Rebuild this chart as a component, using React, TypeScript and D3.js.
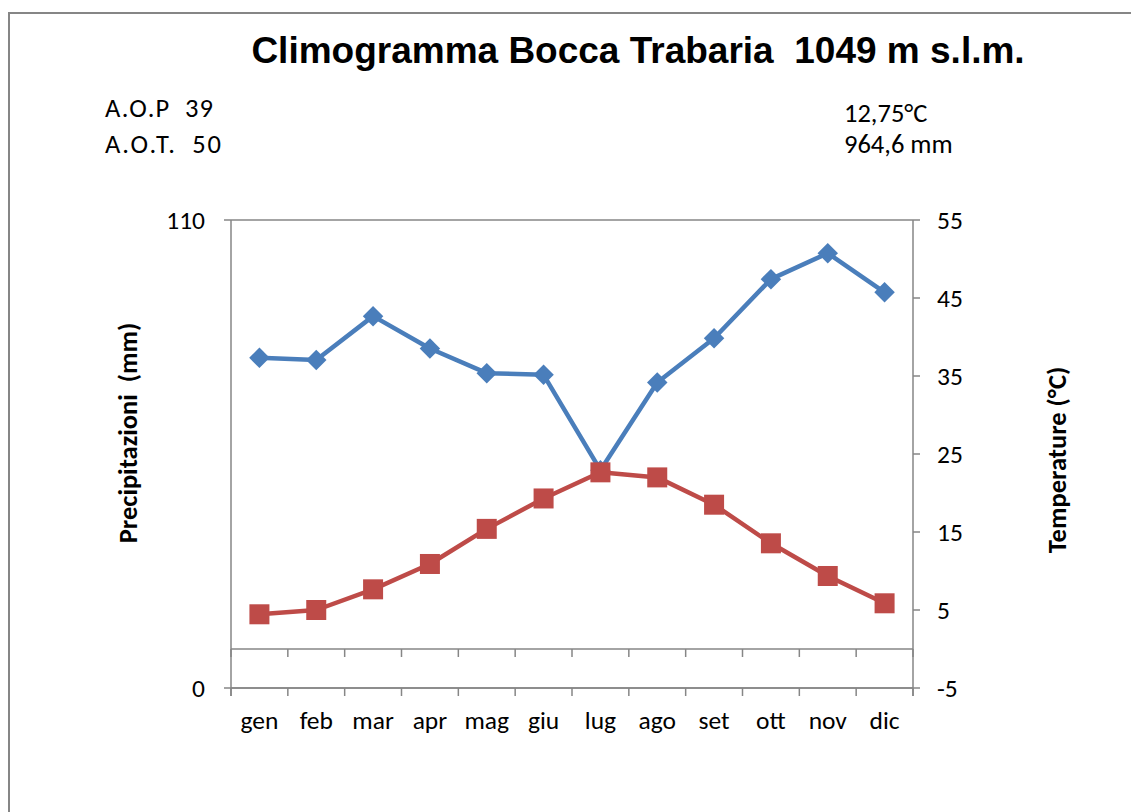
import React, { useEffect, useRef } from "react";
import * as d3 from "d3";

const months = ["gen", "feb", "mar", "apr", "mag", "giu", "lug", "ago", "set", "ott", "nov", "dic"];
const precipitazioni = [77.6, 77.1, 87.4, 79.8, 74.0, 73.6, 51.2, 71.8, 82.2, 96.1, 102.2, 93.0];
const temperature = [4.45, 5.0, 7.65, 10.9, 15.4, 19.3, 22.65, 22.0, 18.5, 13.55, 9.36, 5.86];
const precTicks = [0, 110];
const tempTicks = [-5, 5, 15, 25, 35, 45, 55];

const W = 1131, H = 812;
const left = 231, right = 913, top = 220, bottom = 688;
const bodyFont = "Carlito, Calibri, Lato, 'Open Sans', sans-serif";
const gray = "#868686";

export default function App() {
  const ref = useRef<SVGSVGElement>(null);

  useEffect(() => {
    const svg = d3.select(ref.current);
    svg.selectAll("*").remove();

    const x = d3.scaleBand().domain(months).range([left, right]);
    const yP = d3.scaleLinear().domain([0, 110]).range([bottom, top]);
    const yT = d3.scaleLinear().domain([-5, 55]).range([bottom, top]);
    const cx = (m: string) => (x(m) as number) + x.bandwidth() / 2;

    // outer chart border
    svg.append("rect")
      .attr("x", 9).attr("y", 13)
      .attr("width", W + 20).attr("height", H + 20)
      .attr("fill", "white").attr("stroke", gray).attr("stroke-width", 2);

    // title
    svg.append("text")
      .attr("x", 638).attr("y", 63)
      .attr("text-anchor", "middle")
      .style("white-space", "pre")
      .attr("font-family", "'Liberation Sans', Arial, sans-serif")
      .attr("font-weight", "bold").attr("font-size", 37)
      .text("Climogramma Bocca Trabaria  1049 m s.l.m.");

    const notes = [
      { t: "A.O.P  39", x: 105, y: 117, w: 108 },
      { t: "A.O.T.  50", x: 105, y: 153, w: 116 },
      { t: "12,75°C", x: 844, y: 122, w: 0 },
      { t: "964,6 mm", x: 844, y: 153, w: 0 },
    ];
    svg.selectAll(".note").data(notes).enter().append("text")
      .attr("x", d => d.x).attr("y", d => d.y)
      .style("white-space", "pre")
      .attr("textLength", d => (d.w ? d.w : null))
      .attr("font-family", bodyFont).attr("font-size", 26.5)
      .text(d => d.t);

    // gridlines for the left axis (0 and 110)
    svg.selectAll(".grid").data(precTicks).enter().append("line")
      .attr("x1", left - 7).attr("x2", right)
      .attr("y1", d => yP(d)).attr("y2", d => yP(d))
      .attr("stroke", gray).attr("stroke-width", 1.5);

    // category axis crossing at 0 °C, and at the bottom
    const bounds = d3.range(13).map(i => left + i * x.bandwidth());
    [yT(0), bottom].forEach(yy => {
      svg.append("line")
        .attr("x1", left).attr("x2", right).attr("y1", yy).attr("y2", yy)
        .attr("stroke", gray).attr("stroke-width", 1.5);
      svg.selectAll(null).data(bounds).enter().append("line")
        .attr("x1", d => d).attr("x2", d => d)
        .attr("y1", yy).attr("y2", yy + 8)
        .attr("stroke", gray).attr("stroke-width", 1.5);
    });

    // vertical axes
    [left, right].forEach(xx => {
      svg.append("line")
        .attr("x1", xx).attr("x2", xx).attr("y1", top).attr("y2", bottom + 8)
        .attr("stroke", gray).attr("stroke-width", 1.5);
    });
    svg.selectAll(".rtick").data(tempTicks).enter().append("line")
      .attr("x1", right).attr("x2", right + 7)
      .attr("y1", d => yT(d)).attr("y2", d => yT(d))
      .attr("stroke", gray).attr("stroke-width", 1.5);

    // tick labels
    svg.selectAll(".plab").data(precTicks).enter().append("text")
      .attr("x", 205).attr("y", d => yP(d)).attr("dy", "0.35em")
      .attr("text-anchor", "end")
      .attr("font-family", bodyFont).attr("font-size", 25.5)
      .text(d => d);
    svg.selectAll(".tlab").data(tempTicks).enter().append("text")
      .attr("x", 937).attr("y", d => yT(d)).attr("dy", "0.35em")
      .attr("font-family", bodyFont).attr("font-size", 25.5)
      .text(d => d);
    svg.selectAll(".mlab").data(months).enter().append("text")
      .attr("x", d => cx(d)).attr("y", 729)
      .attr("text-anchor", "middle")
      .attr("font-family", bodyFont).attr("font-size", 25.5)
      .text(d => d);

    // axis titles
    svg.append("text")
      .attr("transform", "translate(137,433) rotate(-90)")
      .attr("text-anchor", "middle")
      .style("white-space", "pre")
      .attr("font-family", bodyFont).attr("font-weight", "bold").attr("font-size", 26.5)
      .text("Precipitazioni  (mm)");
    svg.append("text")
      .attr("transform", "translate(1066,460) rotate(-90)")
      .attr("text-anchor", "middle")
      .attr("font-family", bodyFont).attr("font-weight", "bold").attr("font-size", 26.5)
      .text("Temperature (°C)");

    // precipitation line
    const lineP = d3.line<number>().x((_, i) => cx(months[i])).y(d => yP(d));
    svg.append("path").attr("d", lineP(precipitazioni))
      .attr("fill", "none").attr("stroke", "#4A7EBB").attr("stroke-width", 4.5)
      .attr("stroke-linejoin", "round");
    svg.selectAll(".dia").data(precipitazioni).enter().append("path")
      .attr("d", d3.symbol().type(d3.symbolSquare).size(210)())
      .attr("transform", (d, i) => `translate(${cx(months[i])},${yP(d)}) rotate(45)`)
      .attr("fill", "#4A7EBB");

    // temperature line
    const lineT = d3.line<number>().x((_, i) => cx(months[i])).y(d => yT(d));
    svg.append("path").attr("d", lineT(temperature))
      .attr("fill", "none").attr("stroke", "#BE4B48").attr("stroke-width", 4.5)
      .attr("stroke-linejoin", "round");
    svg.selectAll(".sq").data(temperature).enter().append("rect")
      .attr("x", (d, i) => cx(months[i]) - 10).attr("y", d => yT(d) - 10)
      .attr("width", 20).attr("height", 20)
      .attr("fill", "#BE4B48");
  }, []);

  return (
    <svg ref={ref} width={W} height={H}
      style={{ position: "absolute", left: 0, top: 0, background: "white" }} />
  );
}
